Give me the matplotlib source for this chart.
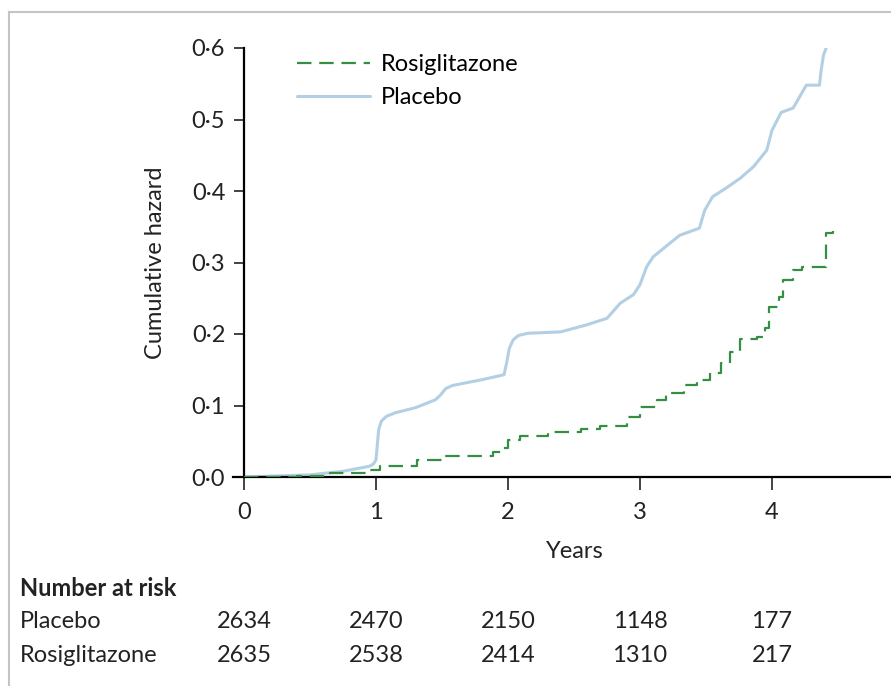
import matplotlib
matplotlib.use('Agg')
import matplotlib.pyplot as plt
import matplotlib.transforms as mtransforms
from matplotlib.lines import Line2D
from matplotlib.ticker import FuncFormatter

plt.rcParams['font.family'] = ['Lato', 'DejaVu Sans']

# Placebo cumulative hazard (years, hazard)
placebo_t = [0.0, 0.5, 0.75, 0.95, 0.98, 1.0, 1.01, 1.02, 1.04, 1.08, 1.15, 1.3, 1.45,
             1.49, 1.53, 1.58, 1.8, 1.97, 1.99, 2.01, 2.04, 2.08, 2.15, 2.4, 2.6, 2.75,
             2.85, 2.95, 3.0, 3.05, 3.1, 3.3, 3.45, 3.49, 3.55, 3.66, 3.76, 3.86, 3.96,
             4.0, 4.07, 4.16, 4.21, 4.26, 4.36, 4.37, 4.39, 4.41]
placebo_h = [0.0, 0.003, 0.008, 0.015, 0.018, 0.024, 0.045, 0.066, 0.078, 0.085, 0.09,
             0.097, 0.108, 0.115, 0.124, 0.128, 0.136, 0.143, 0.16, 0.18, 0.192, 0.198,
             0.201, 0.203, 0.213, 0.222, 0.243, 0.255, 0.269, 0.294, 0.308, 0.338,
             0.348, 0.373, 0.392, 0.405, 0.418, 0.434, 0.457, 0.485, 0.51, 0.516,
             0.532, 0.548, 0.548, 0.566, 0.59, 0.6]

# Rosiglitazone cumulative hazard, step function
rosi_t = [0.0, 0.4, 0.65, 0.95, 1.03, 1.31, 1.51, 1.89, 1.96, 2.0, 2.09, 2.3, 2.55,
          2.7, 2.9, 3.0, 3.13, 3.2, 3.33, 3.43, 3.53, 3.61, 3.68, 3.76, 3.89, 3.95,
          3.98, 4.05, 4.08, 4.16, 4.23, 4.41, 4.46]
rosi_h = [0.0, 0.002, 0.005, 0.01, 0.015, 0.024, 0.029, 0.035, 0.04, 0.052, 0.057,
          0.063, 0.067, 0.071, 0.084, 0.098, 0.108, 0.117, 0.129, 0.136, 0.145, 0.159,
          0.175, 0.193, 0.196, 0.208, 0.238, 0.252, 0.275, 0.289, 0.294, 0.341, 0.344]

# Number at risk table
risk_years = [0, 1, 2, 3, 4]
risk_placebo = [2634, 2470, 2150, 1148, 177]
risk_rosi = [2635, 2538, 2414, 1310, 217]

W, H = 891, 686
FS = 17
TXT = '#222222'
fig = plt.figure(figsize=(W / 100, H / 100), dpi=100)

ax_left, ax_right, ax_top, ax_bottom = 233, 891, 48, 477
ax = fig.add_axes([ax_left / W, (H - ax_bottom) / H,
                   (ax_right - ax_left) / W, (ax_bottom - ax_top) / H])

blue = '#b3cfe4'
green = '#348f43'

ax.plot(placebo_t, placebo_h, color=blue, lw=2.2, solid_capstyle='round',
        solid_joinstyle='round', label='Placebo', zorder=2)
ax.step(rosi_t, rosi_h, where='post', color=green, lw=1.6,
        dashes=(6.5, 3.5), label='Rosiglitazone', zorder=3)

ax.set_xlim(-11 / 132, (ax_right - 244) / 132)
ax.set_ylim(0, 0.6)

for s in ['top', 'right']:
    ax.spines[s].set_visible(False)
ax.spines['left'].set_position(('data', 0))
ax.spines['left'].set_linewidth(1.6)
ax.spines['bottom'].set_linewidth(1.6)

ax.set_xticks(risk_years)
ax.set_yticks([0, 0.1, 0.2, 0.3, 0.4, 0.5, 0.6])
ax.yaxis.set_major_formatter(FuncFormatter(lambda v, p: f'{v:.1f}'.replace('.', '\u00b7')))
ax.tick_params(axis='both', direction='out', width=1.2, labelsize=FS, colors=TXT)
ax.tick_params(axis='x', length=9, pad=9)
ax.tick_params(axis='y', length=7.5, pad=6)

ax.set_ylabel('Cumulative hazard', fontsize=FS, color=TXT)
ax.yaxis.set_label_coords((166 - ax_left) / (ax_right - ax_left), 0.5)
ax.set_xlabel('Years', fontsize=FS, color=TXT)
ax.xaxis.set_label_coords((575 - ax_left) / (ax_right - ax_left), -0.15)

handles, labels = ax.get_legend_handles_labels()
ax.legend(handles[::-1], labels[::-1], loc='upper left',
          bbox_to_anchor=((276 - ax_left) / (ax_right - ax_left), 1.036),
          frameon=False, fontsize=FS, handlelength=3.1, handletextpad=0.45,
          labelspacing=0.52)

# Number at risk rows
trans = mtransforms.blended_transform_factory(ax.transData, fig.transFigure)
fig.text(20 / W, 1 - 588 / H, 'Number at risk', fontsize=FS, fontweight='bold',
         va='center', ha='left', color=TXT)
fig.text(20 / W, 1 - 621 / H, 'Placebo', fontsize=FS, va='center', ha='left', color=TXT)
fig.text(20 / W, 1 - 655 / H, 'Rosiglitazone', fontsize=FS, va='center', ha='left',
         color=TXT)
for yr, p, r in zip(risk_years, risk_placebo, risk_rosi):
    ax.text(yr, 1 - 621 / H, str(p), transform=trans, fontsize=FS, ha='center',
            va='center', color=TXT, clip_on=False)
    ax.text(yr, 1 - 655 / H, str(r), transform=trans, fontsize=FS, ha='center',
            va='center', color=TXT, clip_on=False)

# light panel border
fig.add_artist(Line2D([9 / W, 9 / W], [0, 1 - 12 / H], transform=fig.transFigure,
                      color='#c4c4c4', lw=1.5))
fig.add_artist(Line2D([9 / W, 1], [1 - 12 / H, 1 - 12 / H], transform=fig.transFigure,
                      color='#c4c4c4', lw=1.5))

fig.savefig('out.png', dpi=100)
